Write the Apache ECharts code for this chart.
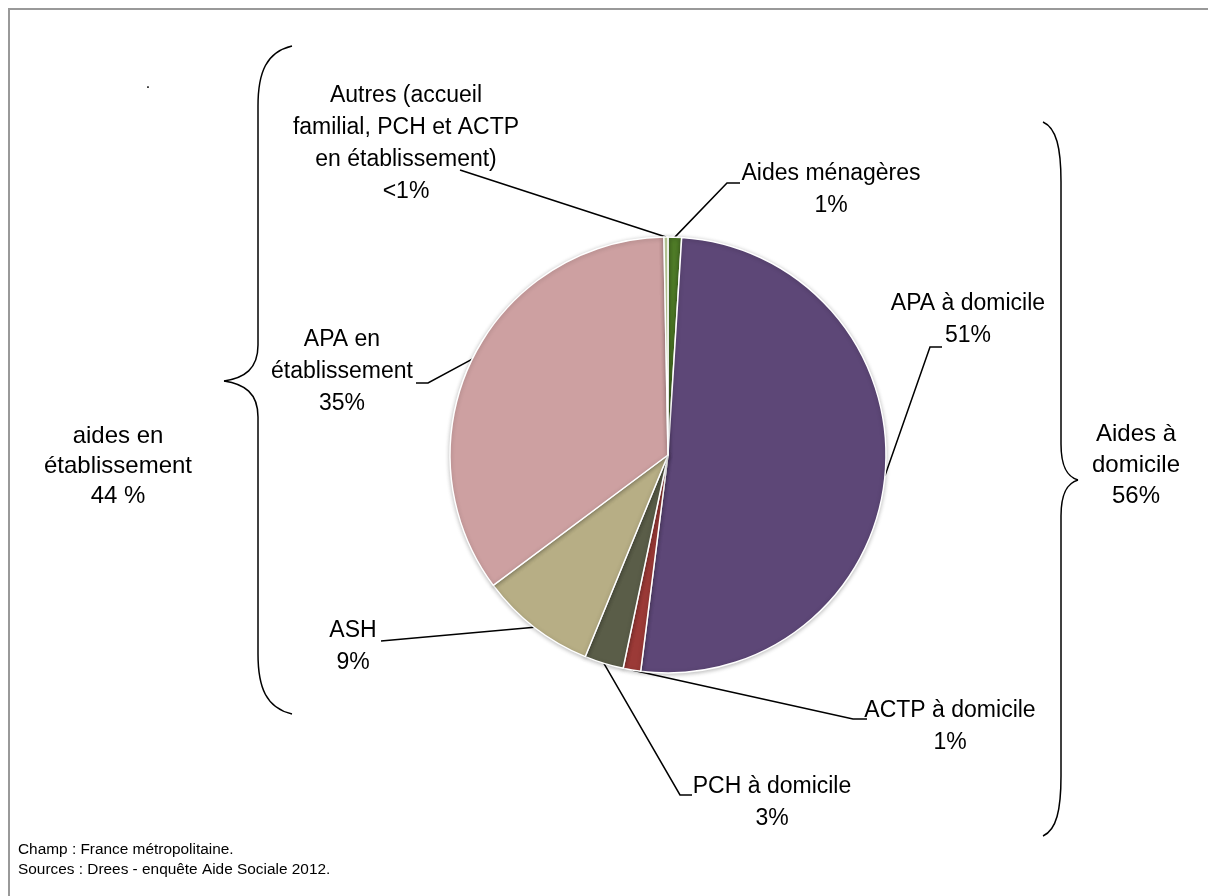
<!DOCTYPE html>
<html>
<head>
<meta charset="utf-8">
<script src="https://cdn.jsdelivr.net/npm/echarts@6/dist/echarts.min.js"></script>
<style>
  html, body { margin: 0; padding: 0; background: #fff; }
  #chart { width: 1208px; height: 896px; }
</style>
</head>
<body>
<div id="chart"></div>
<script>
// slices, clockwise from 12 o'clock
const names = [
  'Aides ménagères',
  'APA à domicile',
  'ACTP à domicile',
  'PCH à domicile',
  'ASH',
  'APA en\nétablissement',
  'Autres (accueil\nfamilial, PCH et ACTP\nen établissement)'
]
const values = [1.0, 51.0, 1.3, 2.9, 8.6, 34.9, 0.3]
const colors = ['#4e7a27', '#5d4777', '#9b3a37', '#5a5d48', '#b7ae85', '#cda0a1', '#c4d5a1']

// group totals shown beside the braces
const groupTexts = ['aides en\nétablissement\n44 %', 'Aides à\ndomicile\n56%']

// where each label sits (text block centre) and the leader bend/end points
const labelLayouts = [
  { x: 831, y: 190, line: [[727, 183], [740, 183]] },
  { x: 968, y: 320, line: [[930, 347], [942, 347]] },
  { x: 950, y: 727, line: [[853, 719], [867, 719]] },
  { x: 772, y: 803, line: [[680, 795], [692, 795]] },
  { x: 353, y: 647, line: [[381, 641]] },
  { x: 342, y: 372, line: [[428, 383], [416, 383]] },
  { x: 406, y: 144, line: [[460, 170]] }
]

const pctText = v => (v < 0.5 ? '<1%' : Math.round(v) + '%')

// curly brace made of curves + straight runs
function brace(xEnd, yTop, yBot, xBar, xTip, yTip) {
  const s = { stroke: '#000', lineWidth: 1.5, fill: 'none' }
  const d = xBar - xEnd
  const t = xTip - xBar
  const c = (x1, y1, cx1, cy1, cx2, cy2, x2, y2) => ({
    type: 'bezierCurve',
    shape: { x1, y1, cpx1: cx1, cpy1: cy1, cpx2: cx2, cpy2: cy2, x2, y2 },
    style: s
  })
  const l = (x1, y1, x2, y2) => ({ type: 'line', shape: { x1, y1, x2, y2 }, style: s })
  return [
    c(xEnd, yTop, xEnd + d * 0.75, yTop + 6, xBar, yTop + 26, xBar, yTop + 60),
    l(xBar, yTop + 60, xBar, yTip - 36),
    c(xBar, yTip - 36, xBar, yTip - 12, xBar + t * 0.4, yTip - 3, xTip, yTip),
    c(xTip, yTip, xBar + t * 0.4, yTip + 3, xBar, yTip + 12, xBar, yTip + 36),
    l(xBar, yTip + 36, xBar, yBot - 60),
    c(xBar, yBot - 60, xBar, yBot - 26, xEnd + d * 0.75, yBot - 6, xEnd, yBot)
  ]
}

const chart = echarts.init(document.getElementById('chart'))
const plain = "'Liberation Sans', Arial, sans-serif"

chart.setOption({
  backgroundColor: '#fff',
  animation: false,
  graphic: [
    // frame
    {
      type: 'rect',
      shape: { x: 9, y: 9, width: 1210, height: 900 },
      style: { fill: 'none', stroke: '#999', lineWidth: 2 }
    },
    ...brace(292, 46, 714, 258, 224, 381),
    ...brace(1043, 122, 836, 1061, 1078, 480),
    {
      type: 'text', x: 118, y: 466,
      style: { text: groupTexts[0], font: '24px ' + plain, fill: '#000', align: 'center', verticalAlign: 'middle', lineHeight: 30 }
    },
    {
      type: 'text', x: 1136, y: 465,
      style: { text: groupTexts[1], font: '24px ' + plain, fill: '#000', align: 'center', verticalAlign: 'middle', lineHeight: 31 }
    },
    {
      type: 'text', x: 148, y: 84,
      style: { text: '.', font: '16px ' + plain, fill: '#000', align: 'center', verticalAlign: 'middle' }
    },
    {
      type: 'text', x: 18, y: 860,
      style: {
        text: 'Champ : France métropolitaine.\nSources : Drees - enquête Aide Sociale 2012.',
        font: '15.4px ' + plain, fill: '#000', align: 'left', verticalAlign: 'middle', lineHeight: 20
      }
    }
  ],
  series: [
    {
      type: 'pie',
      center: [668, 455],
      radius: 218,
      startAngle: 90,
      clockwise: true,
      silent: true,
      data: names.map((n, i) => ({ name: n, value: values[i], itemStyle: { color: colors[i] } })),
      itemStyle: {
        borderColor: '#fff',
        borderWidth: 1.5,
        shadowBlur: 4,
        shadowColor: 'rgba(0,0,0,0.25)',
        shadowOffsetY: 1
      },
      label: {
        show: true,
        position: 'outside',
        formatter: p => p.name + '\n' + pctText(p.value),
        fontFamily: plain,
        fontSize: 23,
        lineHeight: 32,
        color: '#000',
        align: 'center'
      },
      labelLine: {
        show: true,
        length: 20,
        length2: 10,
        lineStyle: { color: '#000', width: 1.5 }
      },
      labelLayout: function (params) {
        const lay = labelLayouts[params.dataIndex]
        const start = params.labelLinePoints[0]
        return {
          x: lay.x,
          y: lay.y,
          align: 'center',
          verticalAlign: 'middle',
          hideOverlap: false,
          labelLinePoints: [start].concat(lay.line)
        }
      }
    }
  ]
})
</script>
</body>
</html>
